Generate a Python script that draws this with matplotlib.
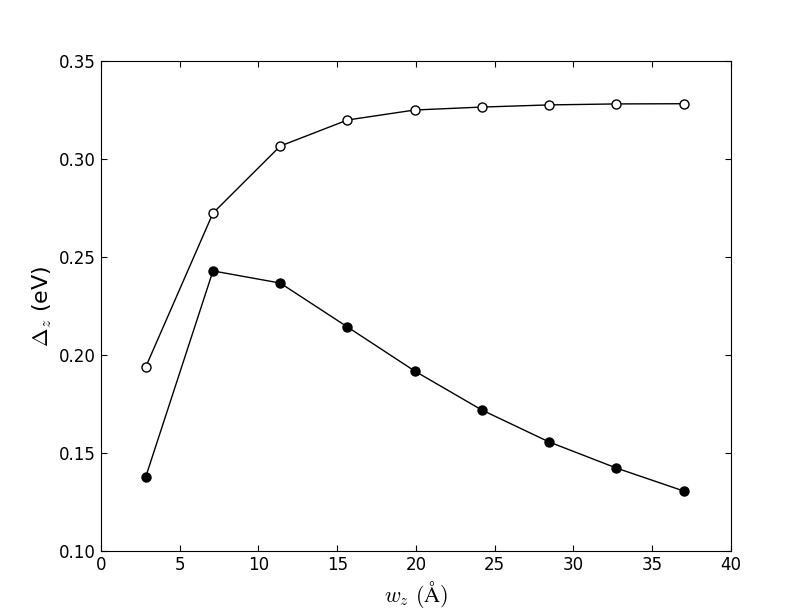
import matplotlib
matplotlib.use('Agg')
import matplotlib.pyplot as plt

# Data
w_z = [2.84, 7.11, 11.38, 15.65, 19.92, 24.19, 28.46, 32.73, 37.0]
delta_open = [0.1939, 0.2724, 0.3066, 0.3199, 0.3250, 0.3265, 0.3276, 0.3281, 0.3282]
delta_filled = [0.1378, 0.2429, 0.2367, 0.2143, 0.1918, 0.1719, 0.1556, 0.1423, 0.1306]

plt.rcParams['mathtext.fontset'] = 'cm'
plt.rcParams['xtick.direction'] = 'in'
plt.rcParams['ytick.direction'] = 'in'
plt.rcParams['xtick.top'] = True
plt.rcParams['ytick.right'] = True
plt.rcParams['xtick.major.size'] = 4
plt.rcParams['ytick.major.size'] = 4

fig = plt.figure(figsize=(8.12, 6.12), dpi=100)
ax = fig.add_axes([101 / 812, 1 - 551 / 612, 630 / 812, 490 / 612])

ax.plot(w_z, delta_open, 'o-', color='black', linewidth=1,
        markersize=6.5, markerfacecolor='white', markeredgecolor='black')
ax.plot(w_z, delta_filled, 'o-', color='black', linewidth=1,
        markersize=6.5, markerfacecolor='black', markeredgecolor='black')

ax.set_xlim(0, 40)
ax.set_ylim(0.10, 0.35)
ax.set_xticks(range(0, 41, 5))
ax.set_yticks([0.10, 0.15, 0.20, 0.25, 0.30, 0.35])
ax.tick_params(labelsize=12)

ax.set_xlabel(r'$w_z\ (\mathrm{\AA})$', fontsize=16)
ax.set_ylabel(r'$\Delta_z$ (eV)', fontsize=16)

fig.savefig('out.png', dpi=100)
